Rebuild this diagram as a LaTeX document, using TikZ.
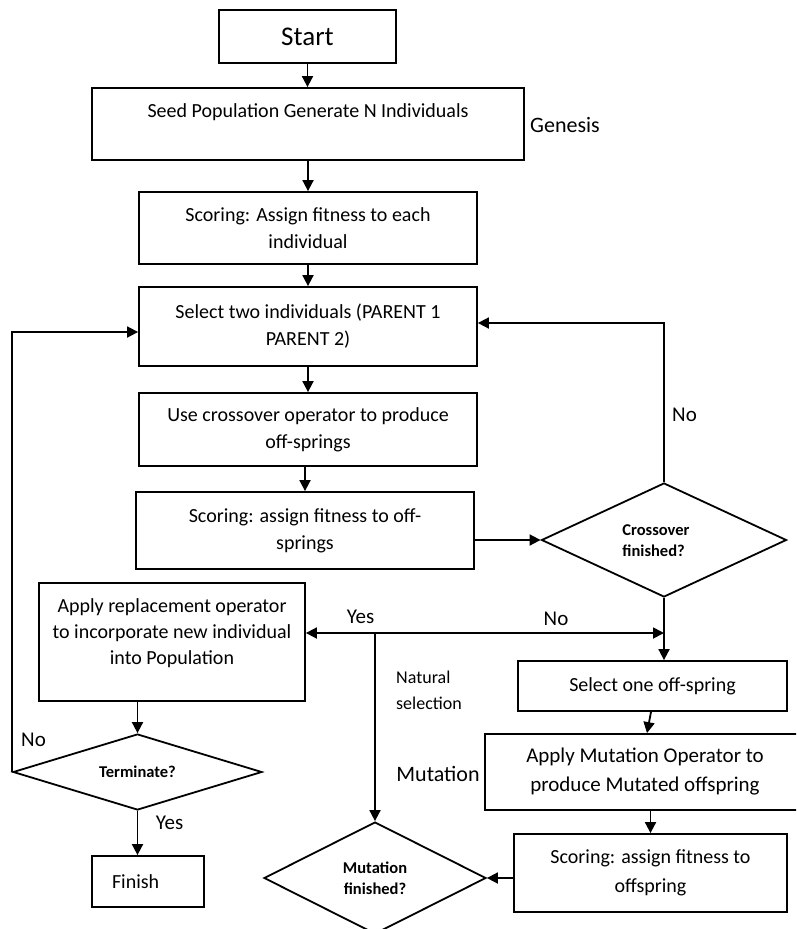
\documentclass[tikz,border=0pt]{standalone}
\usepackage{fontspec}
\setmainfont{Carlito}
\usetikzlibrary{arrows.meta,shapes.geometric}
\begin{document}
\begin{tikzpicture}[x=1pt,y=-1pt,
  box/.style={draw, line width=1.8pt, rectangle, inner sep=0pt, align=center, font=\fontsize{20}{27}\selectfont},
  dia/.style={draw, line width=1.8pt, diamond, aspect=3, inner sep=0pt, align=center, font=\bfseries\fontsize{16.5}{21}\selectfont},
  txt/.style={inner sep=0pt, align=center, font=\fontsize{20}{26}\selectfont},
  lab/.style={inner sep=0pt, font=\fontsize{21}{26}\selectfont},
  arr/.style={line width=1.8pt, -{Triangle[length=11pt,width=11pt]}}]
\clip (0,0) rectangle (796,929);
% boxes
\node[box, minimum width=177pt, minimum height=53pt, font=\fontsize{27}{30}\selectfont] (start) at (307.5,36.5) {Start};
\node[box, minimum width=432pt, minimum height=72pt] (seed) at (308,124) {};
\node[txt, anchor=base] (seedtxt) at (308,117.5) {Seed Population Generate N Individuals};
\node[box, minimum width=338pt, minimum height=72pt] (score1) at (308,228) {Scoring: Assign fitness to each\\individual};
\node[box, minimum width=338pt, minimum height=79pt] (select) at (308,326.5) {Select two individuals (PARENT 1\\PARENT 2)};
\node[box, minimum width=338pt, minimum height=73pt] (cross) at (308,429.5) {Use crossover operator to produce\\off-springs};
\node[box, minimum width=338pt, minimum height=77pt] (score2) at (305,530.5) {Scoring: assign fitness to off-\\springs};
\node[dia, minimum width=245pt, minimum height=114pt] (cdiam) at (664,540) {};
\node[inner sep=0pt, align=left, font=\bfseries\fontsize{16.5}{21}\selectfont] (cdiamtxt) at (656,541) {Crossover\\finished?};
\node[box, minimum width=266pt, minimum height=118pt] (repl) at (172,642) {};
\node[txt] (repltxt) at (172,633) {Apply replacement operator\\to incorporate new individual\\into Population};
\node[box, minimum width=269pt, minimum height=50pt] (selone) at (652.5,686) {Select one off-spring};
\node[box, minimum width=320pt, minimum height=76pt, font=\fontsize{21}{29}\selectfont] (mutbox) at (645,772) {Apply Mutation Operator to\\produce Mutated offspring};
\node[box, minimum width=273pt, minimum height=78pt, font=\fontsize{20}{29}\selectfont] (score3) at (650.5,873) {Scoring: assign fitness to\\offspring};
\node[dia, minimum width=222pt, minimum height=112pt, aspect=2] (mdiam) at (375,878) {Mutation\\finished?};
\node[dia, minimum width=249pt, minimum height=76pt] (term) at (137.5,772) {Terminate?};
\node[box, minimum width=112pt, minimum height=51pt, text width=72pt, inner xsep=20pt, align=left] (finish) at (148,881.5) {Finish};
% connectors
\draw[arr] (start.south) -- (start.south |- seed.north);
\draw[arr] (seed.south) -- (seed.south |- score1.north);
\draw[arr] (score1.south) -- (select.north);
\draw[arr] (select.south) -- (cross.north);
\draw[arr] (cross.south -| score2.north) -- (score2.north);
\draw[arr] (score2.east |- cdiam.west) -- (cdiam.west);
\draw[arr] (cdiam.north) |- ([yshift=3.5pt]select.east);
\draw[arr] (cdiam.south) -- (cdiam.south |- selone.north);
\coordinate (j) at (375,633);
\draw[arr] (j) -- (repl.east |- j);
\draw[arr] (j) -- (cdiam.south |- j);
\draw[arr] (j) -- (mdiam.north);
\draw[arr] ([xshift=-1.5pt]selone.south) -- ([xshift=2pt]mutbox.north);
\draw[arr] (score3.north |- mutbox.south) -- (score3.north);
\draw[arr] (score3.west |- mdiam.east) -- (mdiam.east);
\draw[arr] (repl.south -| term.north) -- (term.north);
\draw[arr] (term.south) -- (term.south |- finish.north);
\draw[arr] (term.west) |- ([yshift=-5.5pt]select.west);
% labels
\node[lab, font=\fontsize{22}{26}\selectfont] (genesis) at (565,125) {Genesis};
\node[lab] (noright) at (684.5,415) {No};
\node[lab] (yesmid) at (360.5,617) {Yes};
\node[lab] (nomid) at (556,619) {No};
\node[lab] (noleft) at (33.5,740) {No};
\node[lab] (yesbot) at (169.5,823) {Yes};
\node[inner sep=0pt, anchor=west, align=left, font=\fontsize{18}{26}\selectfont] (natsel) at (396,690) {Natural\\selection};
\node[lab, font=\fontsize{22}{26}\selectfont] (mutlab) at (438,774) {Mutation};
\end{tikzpicture}
\end{document}
